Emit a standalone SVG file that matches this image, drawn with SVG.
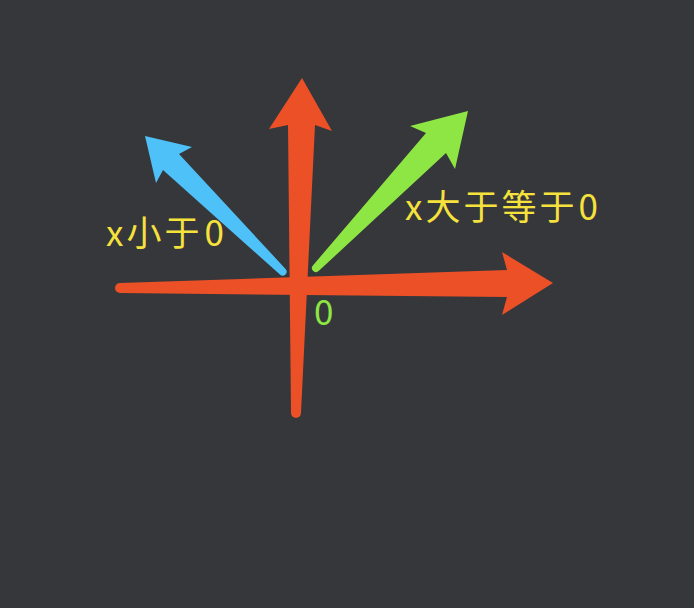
<svg xmlns="http://www.w3.org/2000/svg" width="694" height="608" viewBox="0 0 694 608">
<style>
.red{fill:#ec5026}
.blue{fill:#4fc1f9}
.green{fill:#8ee644}
.lbl{font-family:"Noto Sans CJK SC","Noto Sans",sans-serif;font-size:35px;letter-spacing:3px}
.y{fill:#f6e23c}
.g{fill:#8ee644}
</style>
<rect width="694" height="608" fill="#36373b"/>
<g id="connectors">
<path id="x-axis" class="red" d="M120,283 L507,270 L502,252 L553,283 L502,315 L507,297 L120,293 A5,5 0 0 1 120,283 Z"/>
<path id="y-axis" class="red" d="M291,413 L288,125 L269,129 L302,78 L332,131 L315,125 L301,413 A5,5 0 0 1 291,413 Z"/>
<path id="blue-arrow" class="blue" d="M285.8,269.2 L179,154 L192,147 L145,136 L156,183 L163,170 L280.2,274.8 A4,4 0 0 0 285.8,269.2 Z"/>
<path id="green-arrow" class="green" d="M313.1,265.2 L426,133 L410,126 L468,111 L455,169 L446,153 L318.9,270.8 A4,4 0 0 1 313.1,265.2 Z"/>
</g>
<g id="label-less"><text class="lbl y" x="106" y="246">x小于<tspan dx="2">0</tspan></text></g>
<g id="label-geq"><text class="lbl y" x="405" y="220">x大于等于<tspan dx="1">0</tspan></text></g>
<g id="label-origin"><text class="lbl g" x="314" y="325">0</text></g>
</svg>
